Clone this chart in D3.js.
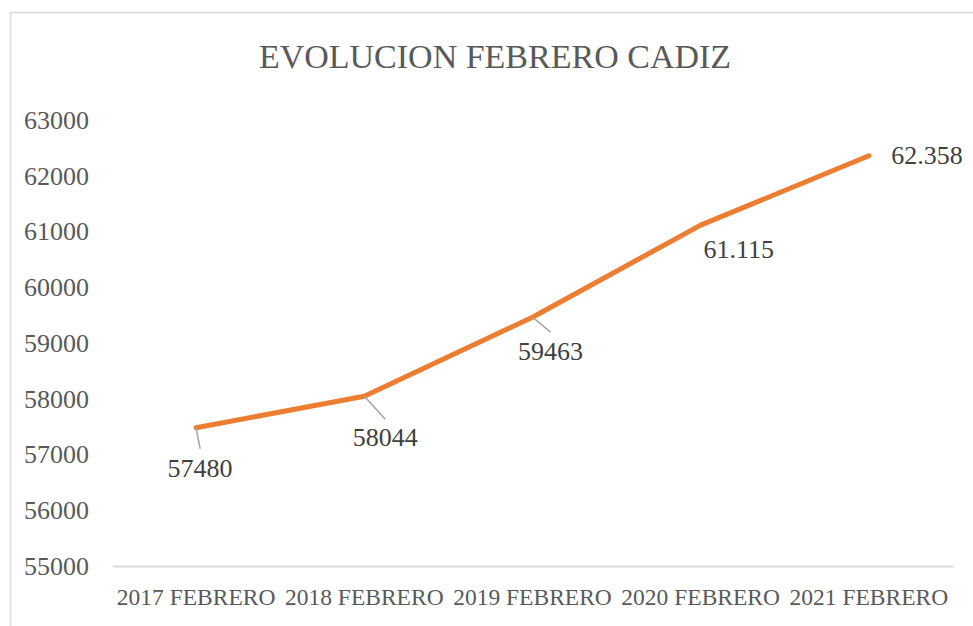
<!DOCTYPE html>
<html>
<head>
<meta charset="utf-8">
<script src="https://cdn.jsdelivr.net/npm/d3@7"></script>
<style>
  body { margin: 0; background: #fff; }
  svg { display: block; font-family: "Liberation Serif", serif; }
</style>
</head>
<body>
<svg id="chart" width="973" height="626"></svg>
<script>
// Data
var categories = ["2017 FEBRERO", "2018 FEBRERO", "2019 FEBRERO", "2020 FEBRERO", "2021 FEBRERO"];
var values = [57480, 58044, 59463, 61115, 62358];
var valueLabels = ["57480", "58044", "59463", "61.115", "62.358"];
var yTicks = [55000, 56000, 57000, 58000, 59000, 60000, 61000, 62000, 63000];

// label placement relative to its point: text [dx, dy], leader end [lx, ly] or null
var labelOffsets = [
  {dx: 4, dy: 49, lx: 4, ly: 21},
  {dx: 21, dy: 50, lx: 21, ly: 23},
  {dx: 18, dy: 43, lx: 18, ly: 15},
  {dx: 38, dy: 33, lx: null},
  {dx: 58, dy: 8, lx: null}
];

var svg = d3.select("#chart");
var axisGrey = "#595959";
var lineColor = "#ED7D31";

// chart frame (runs off right and bottom edges)
svg.append("rect")
  .attr("x", 10.5).attr("y", 12.5)
  .attr("width", 1000).attr("height", 700)
  .attr("fill", "none")
  .attr("stroke", "#d9d9d9")
  .attr("stroke-width", 1.5);

svg.append("text")
  .attr("x", 495).attr("y", 68)
  .attr("text-anchor", "middle")
  .attr("font-size", 34)
  .attr("fill", axisGrey)
  .text("EVOLUCION FEBRERO CADIZ");

var x = d3.scaleBand().domain(categories).range([112, 953]);
var y = d3.scaleLinear().domain([55000, 63000]).range([566, 120]);

// y axis - labels only
var gy = svg.append("g")
  .attr("transform", "translate(89,0)")
  .call(d3.axisLeft(y).tickValues(yTicks).tickSize(0).tickPadding(0).tickFormat(d3.format("d")));
gy.select(".domain").remove();
gy.selectAll("text")
  .attr("font-family", "Liberation Serif, serif")
  .attr("font-size", 26)
  .attr("fill", axisGrey);

// x axis
var gx = svg.append("g")
  .attr("transform", "translate(0,566)")
  .call(d3.axisBottom(x).tickSize(0).tickPadding(22));
gx.select(".domain").attr("stroke", "#d9d9d9").attr("stroke-width", 2);
gx.selectAll("text")
  .attr("font-family", "Liberation Serif, serif")
  .attr("font-size", 23.5)
  .attr("fill", axisGrey);

function px(i) { return x(categories[i]) + x.bandwidth() / 2; }

var line = d3.line()
  .x(function(d, i) { return px(i); })
  .y(function(d) { return y(d); });

svg.append("path")
  .datum(values)
  .attr("d", line)
  .attr("fill", "none")
  .attr("stroke", lineColor)
  .attr("stroke-width", 5)
  .attr("stroke-linecap", "round")
  .attr("stroke-linejoin", "round");

// leader lines
svg.selectAll(".leader")
  .data(values.filter(function(d, i) { return labelOffsets[i].lx !== null; }))
  .enter()
  .append("line")
  .attr("class", "leader")
  .each(function(d) {
    var i = values.indexOf(d), o = labelOffsets[i];
    d3.select(this)
      .attr("x1", px(i)).attr("y1", y(d))
      .attr("x2", px(i) + o.lx).attr("y2", y(d) + o.ly);
  })
  .attr("stroke", "#a6a6a6")
  .attr("stroke-width", 1.5);

// data labels
svg.selectAll(".dlabel")
  .data(values)
  .enter()
  .append("text")
  .attr("class", "dlabel")
  .attr("x", function(d, i) { return px(i) + labelOffsets[i].dx; })
  .attr("y", function(d, i) { return y(d) + labelOffsets[i].dy; })
  .attr("text-anchor", "middle")
  .attr("font-size", 26)
  .attr("fill", "#404040")
  .text(function(d, i) { return valueLabels[i]; });
</script>
</body>
</html>
